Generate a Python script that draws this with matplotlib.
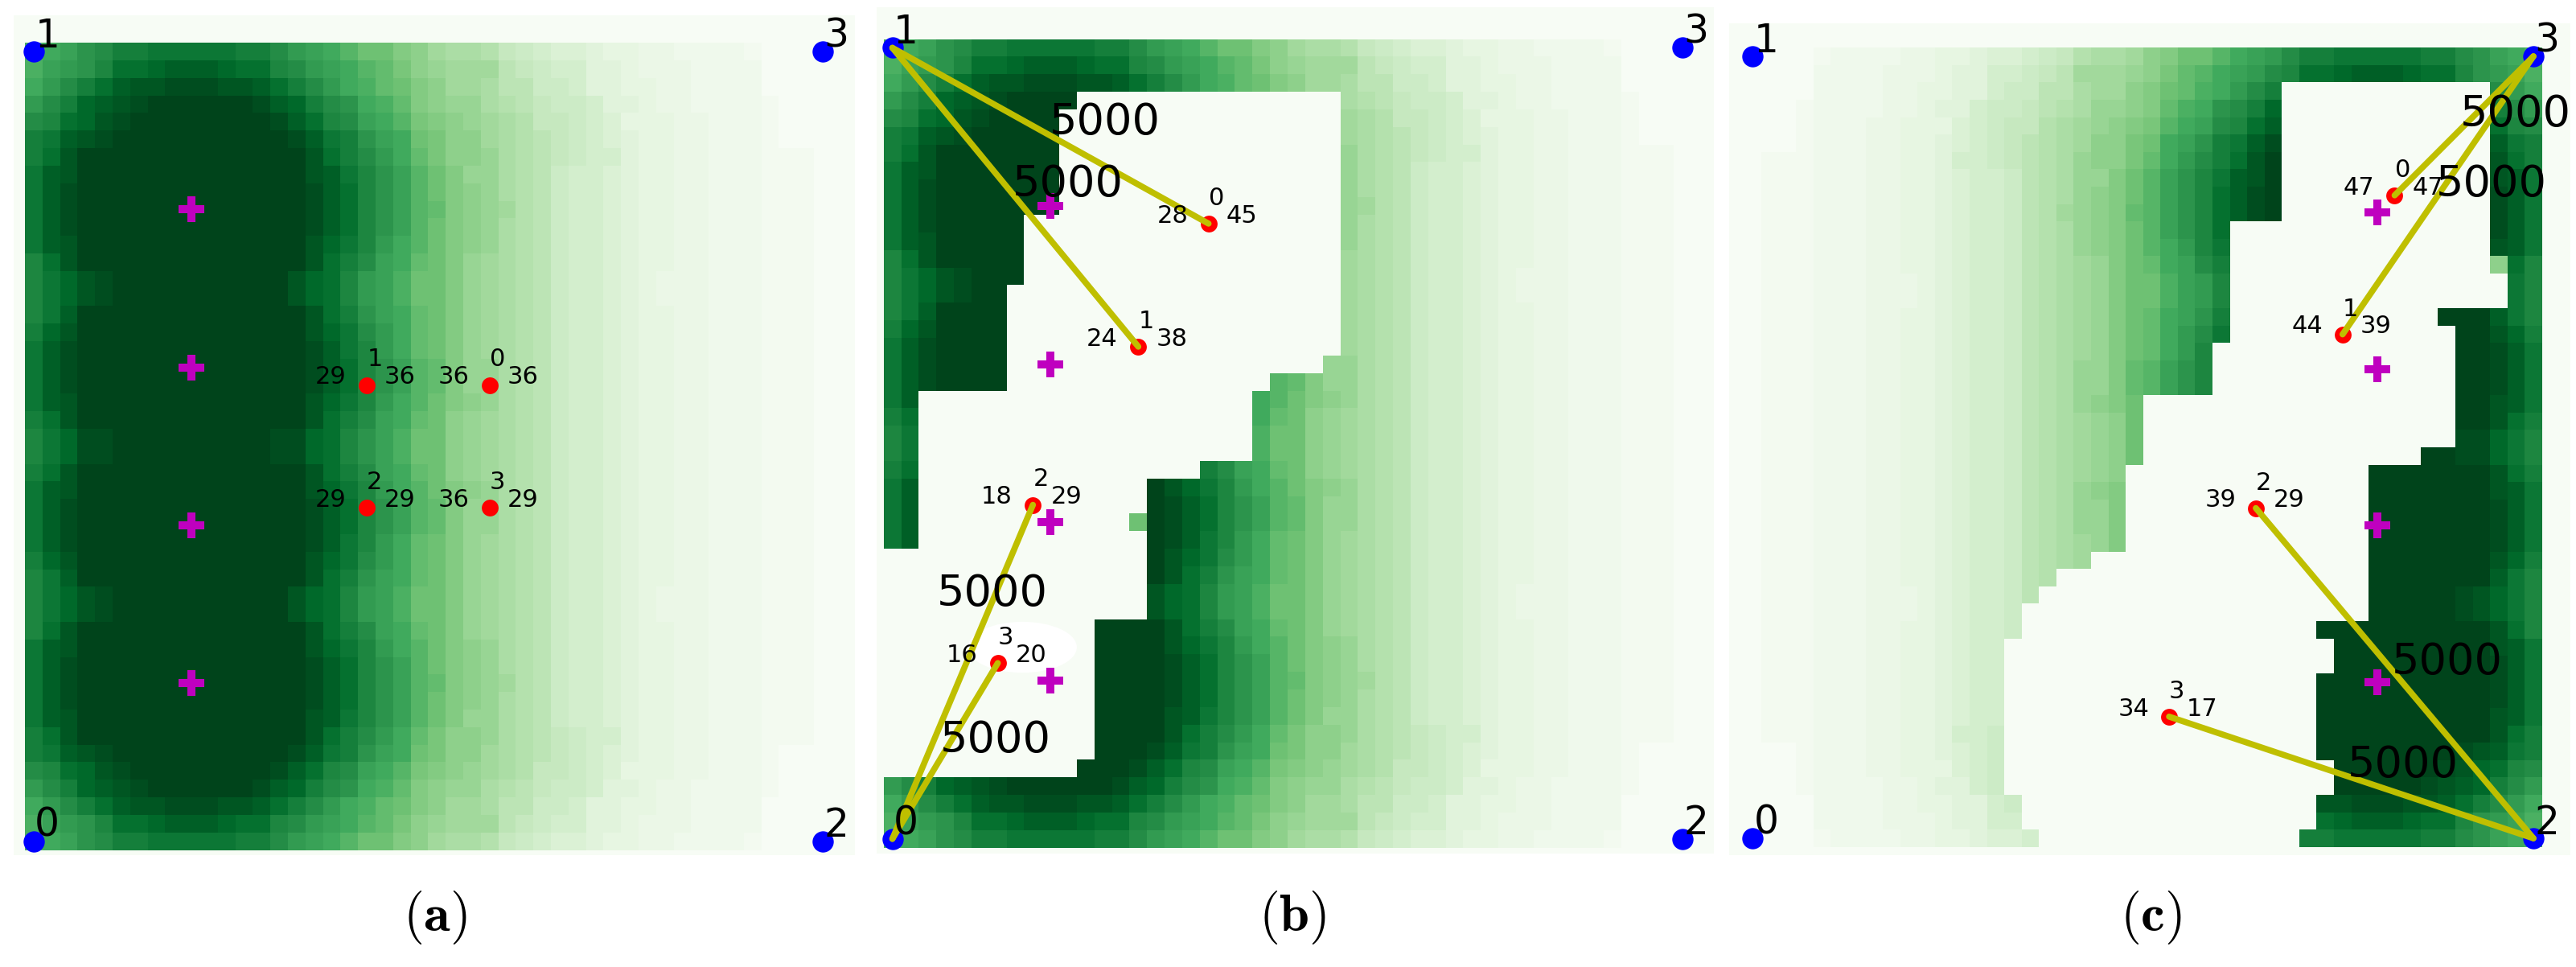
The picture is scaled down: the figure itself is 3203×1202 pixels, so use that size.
import numpy as np
import matplotlib
matplotlib.use('Agg')
import matplotlib.pyplot as plt
from matplotlib.patches import Ellipse

plt.rcParams['font.family'] = 'DejaVu Sans'
plt.rcParams['mathtext.fontset'] = 'cm'

# signal map of panel a, top row first, one character per cell (0..z = lightest..darkest)
rows_a = [
    'lmnpqsstttttssqonmkiigfdccb987665443322221',
    'lnopruuvwwwvuurqonmkjhfeddda98775543332222',
    'moqsuwxxyyyxxwusqomljigfddcaa8875544332222',
    'oqsvwxyzzzzzzywvsqpmljgfeecba98875543322221',
    'qruvxyzzzzzzzzywurqnmkhgfedcb99876444332221',
    'stwxyzzzzzzzzzzywtspnmihffdcba9876544332221',
    'suxzzzzzzzzzzzzzxusqomjhffecba9877544332221110',
    'twxzzzzzzzzzzzzzxwtrpnkigeecba8776544332221110',
    'twyzzzzzzzzzzzzzywurpnkigfecba8776544332221110',
    'twyzzzzzzzzzzzzzywurpnkjgfedba8776544332221110',
    'twyzzzzzzzzzzzzzywurpnkigfecba8776544332221110',
    'twxzzzzzzzzzzzzzxvtromkigfecba8776544332221110',
    'ruxzzzzzzzzzzzzzxusqnmjigedcba8776544332221110',
    'rtvxyzzzzzzzzzzxvuronliigedcba8776543332221110',
    'rtvxyzzzzzzzzzzxvuronliigedcba8776543332221110',
    'rtwzzzzzzzzzzzzzxuspnmjigedcba8776544332221110',
    'svxzzzzzzzzzzzzzxvtqomjigedcba8776544332221110',
    'twyzzzzzzzzzzzzzywtromjigedcba8776544332221110',
    'twyzzzzzzzzzzzzzywurpnkjgeecba8776544332221110',
    'twyzzzzzzzzzzzzzywurpnkjgeecba8776544332221110',
    'twxzzzzzzzzzzzzzxvtromkigfecba8776544332221110',
    'suxzzzzzzzzzzzzzxusqnmjifedcba8776544332221110',
    'rtvyyzzzzzzzzzyyvurpnliifedcba8776544332221110',
    'rtvyyzzzzzzzzzyyvurpnliifedcba8776544332221110',
    'suxzzzzzzzzzzzzzxusqnmjifedcba8776544332221110',
    'twxzzzzzzzzzzzzzxvtromkigfecba8776544332221110',
    'twyzzzzzzzzzzzzzywurpnkjgeecba8776544332221110',
    'twyzzzzzzzzzzzzzywurpnkjgeecba8776544332221110',
    'twyzzzzzzzzzzzzzywtromjigedcba8776544332221110',
    'svxzzzzzzzzzzzzzxvtqomjigedcba8776544332221110',
    'rtwzzzzzzzzzzzzzxuspnmjigedcba8776544332221110',
    'rtvxyzzzzzzzzzzxvuronliigedcba8776543332221110',
    'rtvxyzzzzzzzzzzxvuronliigedcba8776543332221110',
    'ruxzzzzzzzzzzzzzxusqnmjigedcba8776544332221110',
    'twxzzzzzzzzzzzzzxvtromkigfecba8776544332221110',
    'twyzzzzzzzzzzzzzywurpnkigfecba8776544332221110',
    'twyzzzzzzzzzzzzzywurpnkjgfedba8776544332221110',
    'twyzzzzzzzzzzzzzywurpnkigfecba8776544332221110',
    'twxzzzzzzzzzzzzzxwtrpnkigeecba8776544332221110',
    'suxzzzzzzzzzzzzzxusqomjhffecba9877544332221110',
    'stwxyzzzzzzzzzzywtspnmihffdcba9876544332221',
    'qruvxyzzzzzzzzywurqnmkhgfedcb99876444332221',
    'oqsvwxyzzzzzzywvsqpmljgfeecba98875543322221',
    'moqsuwxxyyyxxwusqomljigfddcaa8875544332222',
    'lnopruuvwwwvuurqonmkjhfeddda98775543332222',
    'lmnpqsstttttssqonmkiigfdccb987665443322221',
]

# cells blanked out in b and c: first row, last row, first column, end column
blank_b = [
    (3, 3, 11, 26), (4, 9, 10, 26), (10, 13, 8, 26), (14, 17, 7, 26),
    (18, 18, 7, 25), (19, 19, 7, 22), (20, 23, 2, 21), (24, 24, 2, 18),
    (25, 28, 2, 15), (29, 32, 0, 15), (33, 40, 0, 12), (41, 41, 0, 11),
]
blank_c = [
    (2, 9, 31, 43), (10, 12, 28, 43), (13, 14, 28, 44), (15, 15, 28, 40),
    (16, 16, 28, 41), (17, 19, 27, 41), (20, 22, 23, 41), (23, 23, 23, 39),
    (24, 28, 22, 36), (29, 29, 20, 36), (30, 30, 18, 36), (31, 31, 17, 36),
    (32, 32, 16, 36), (33, 33, 16, 33), (34, 35, 15, 34), (36, 40, 15, 33),
    (41, 42, 15, 34), (43, 44, 16, 33), (45, 45, 17, 32),
]
# single cells that stay green next to the blanked part: row, column, level
left_b = (27, 14, 18)
left_c = (12, 43, 15)

corner_x = [0, 0, 45, 45]
corner_y = [0, 45, 0, 45]
corner_names = ['0', '1', '2', '3']

plus_x = {'a': [9, 9, 9, 9], 'b': [9, 9, 9, 9], 'c': [36, 36, 36, 36]}
plus_y = [36, 27, 18, 9]

user_x = {'a': [26, 19, 19, 26], 'b': [18, 14, 8, 6], 'c': [37, 34, 29, 24]}
user_y = {'a': [26, 26, 19, 19], 'b': [35, 28, 19, 10], 'c': [37, 29, 19, 7]}
left_val = {'a': [36, 29, 29, 36], 'b': [28, 24, 18, 16], 'c': [47, 44, 39, 34]}
right_val = {'a': [36, 36, 29, 29], 'b': [45, 38, 29, 20], 'c': [47, 39, 29, 17]}

# which corner each user is linked to (a has no links)
links = {'a': [], 'b': [1, 1, 0, 0], 'c': [3, 3, 2, 2]}
link_text_x = {'a': [], 'b': [12.1, 10.0, 5.7, 5.85], 'c': [43.95, 42.6, 40.05, 37.5]}
link_text_y = {'a': [], 'b': [40.75, 37.25, 13.95, 5.6], 'c': [41.65, 37.65, 10.15, 4.2]}

captions = {'a': r'$(\mathbf{a})$', 'b': r'$(\mathbf{b})$', 'c': r'$(\mathbf{c})$'}

W, H = 3203, 1202
levels = '0123456789abcdefghijklmnopqrstuvwxyz'

grid_a = np.zeros((46, 46))
for r, row in enumerate(rows_a):
    for c, ch in enumerate(row):
        grid_a[r, c] = levels.index(ch)

grid_b = grid_a.copy()
for r0, r1, c0, c1 in blank_b:
    grid_b[r0:r1 + 1, c0:c1] = 0
grid_b[left_b[0], left_b[1]] = left_b[2]

grid_c = grid_a[:, ::-1].copy()
for r0, r1, c0, c1 in blank_c:
    grid_c[r0:r1 + 1, c0:c1] = 0
grid_c[left_c[0], left_c[1]] = left_c[2]

grids = {'a': grid_a, 'b': grid_b, 'c': grid_c}

# pixel layout: centre of first cell, cell size, panel box
layout = {
    'a': dict(x0=41.9, cx=21.8, y0=1045.6, cy=21.81, L=17, R=1063, T=19, B=1063, cap=541),
    'b': dict(x0=1109.6, cx=21.84, y0=1042.7, cy=21.85, L=1090, R=2131, T=9, B=1061, cap=1607),
    'c': dict(x0=2179.4, cx=21.57, y0=1042.0, cy=21.6, L=2150, R=3196, T=29, B=1063, cap=2674),
}

fig = plt.figure(figsize=(W / 100, H / 100), dpi=100)

edges = np.arange(47) - 0.5
for name in ['a', 'b', 'c']:
    p = layout[name]
    ax = fig.add_axes([p['L'] / W, 1 - p['B'] / H, (p['R'] - p['L']) / W, (p['B'] - p['T']) / H])
    ax.set_facecolor('#f7fcf5')
    ax.pcolormesh(edges, edges, grids[name][::-1], cmap='Greens', vmin=0, vmax=35)
    ax.set_xlim((p['L'] - p['x0']) / p['cx'], (p['R'] - p['x0']) / p['cx'])
    ax.set_ylim((p['y0'] - p['B']) / p['cy'], (p['y0'] - p['T']) / p['cy'])
    ax.set_xticks([])
    ax.set_yticks([])
    for s in ax.spines.values():
        s.set_visible(False)

    # pale smudge behind the labels of user 3 in b
    if name == 'b':
        ax.add_patch(Ellipse((7.4, 10.9), 6.2, 2.9, color='white', lw=0, zorder=2))

    ax.plot(corner_x, corner_y, 'o', color='#0000ff', ms=19, mew=0, zorder=3)
    ax.plot(plus_x[name], plus_y, 'P', color='#bf00bf', ms=23, mew=0, zorder=3)
    ax.plot(user_x[name], user_y[name], 'o', color='#ff0000', ms=15, mew=0, zorder=4)

    for k, corner in enumerate(links[name]):
        ax.plot([user_x[name][k], corner_x[corner]], [user_y[name][k], corner_y[corner]],
                color='#bfbf00', lw=5.5, solid_capstyle='round', zorder=5)
        ax.text(link_text_x[name][k], link_text_y[name][k], '5000', fontsize=39,
                ha='center', va='center', zorder=6)

    for k in range(4):
        ax.text(corner_x[k] + 0.77, corner_y[k] + 0.9, corner_names[k], fontsize=35,
                ha='center', va='center', zorder=6)
        ux, uy = user_x[name][k], user_y[name][k]
        ax.text(ux + 0.45, uy + 1.45, str(k), fontsize=22, ha='center', va='center', zorder=6)
        ax.text(ux - 2.05, uy + 0.45, str(left_val[name][k]), fontsize=22, ha='center', va='center', zorder=6)
        ax.text(ux + 1.9, uy + 0.45, str(right_val[name][k]), fontsize=22, ha='center', va='center', zorder=6)

    fig.text(p['cap'] / W, 1 - 1141 / H, captions[name], fontsize=48, ha='center', va='center')

fig.savefig('out.png', dpi=100)
